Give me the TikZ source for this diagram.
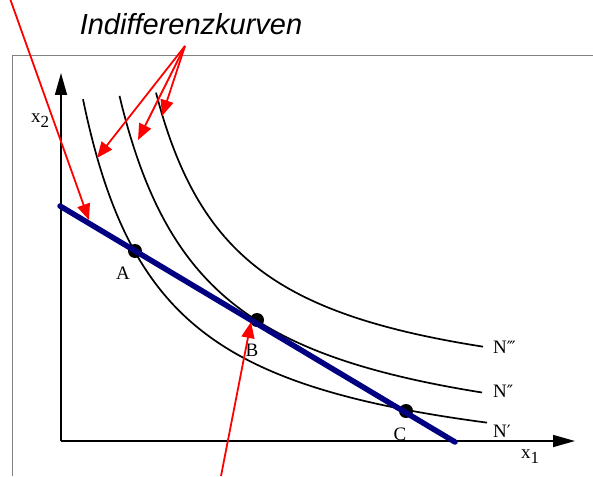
\documentclass[tikz,border=0pt]{standalone}
\usepackage{fontspec}
\setmainfont{Liberation Serif}
\newfontfamily\labsans{Liberation Sans}
\newfontfamily\primefont{DejaVu Sans}
\usetikzlibrary{arrows.meta}
\definecolor{navyline}{RGB}{0,0,128}
\definecolor{framegray}{RGB}{128,128,128}
\tikzset{
  framestyle/.style={draw=framegray, line width=1.1pt},
  axisstyle/.style={draw=black, line width=1.5pt, -{Triangle[length=22pt,width=12pt]}},
  curvestyle/.style={draw=black, line width=1.7pt},
  budget/.style={draw=navyline, line width=5.5pt, line cap=round},
  pointer/.style={draw=red, line width=1.8pt, -{Triangle[length=16pt,width=13pt]}},
  lab/.style={font=\fontsize{19}{19}\selectfont, inner sep=0pt},
  dotpt/.style={circle, fill=black, minimum size=14pt, inner sep=0pt},
}
\begin{document}
\begin{tikzpicture}[x=1pt,y=-1pt]
\useasboundingbox (0,0) rectangle (593,476);
% frame
\draw[framestyle] (12.7,476) -- (12.7,55.7) -- (593,55.7);
% axes
\coordinate (O) at (61,441);
\coordinate (ytip) at (61,73);
\coordinate (xtip) at (575,441);
\draw[axisstyle] (O) -- (ytip);
\draw[axisstyle] (O) -- (xtip);
\node[lab, anchor=base west] (x2) at (31,122) {x\raisebox{-5pt}{\fontsize{17}{17}\selectfont 2}};
\node[lab, anchor=base west] (x1) at (521,458) {x\raisebox{-5pt}{\fontsize{17}{17}\selectfont 1}};
% indifference curves
\draw[curvestyle] plot[smooth, domain=83:487, samples=120] (\x, {486.6 - 309.50/((\x-3.09)/100)});
\draw[curvestyle] plot[smooth, domain=119.5:482, samples=120] (\x, {464.6 - 324.92/((\x-31.37)/100)});
\draw[curvestyle] plot[smooth, domain=156:483, samples=120] (\x, {411.1 - 264.14/((\x-73.05)/100)});
\node[lab, anchor=west] (N3) at (493,347) {N{\primefont\fontsize{17}{17}\selectfont ‴}};
\node[lab, anchor=west] (N2) at (493,391) {N{\primefont\fontsize{17}{17}\selectfont ″}};
\node[lab, anchor=west] (N1) at (493,431) {N{\primefont\fontsize{17}{17}\selectfont ′}};
% points
\node[dotpt] (A) at (135,251) {};
\node[dotpt] (B) at (257,320) {};
\node[dotpt] (C) at (406,411) {};
% budget line
\coordinate (bl1) at (60,206);
\coordinate (bl2) at (455,442);
\draw[budget] (bl1) -- (bl2);
% labels
\node[lab] (Alab) at (123,273) {A};
\node[lab] (Blab) at (252,350) {B};
\node[lab] (Clab) at (400,434) {C};
% title
\node[font=\labsans\itshape\fontsize{29}{29}\selectfont, anchor=base, inner sep=0pt] (title) at (191,35) {Indifferenzkurven};
% red pointers
\coordinate (indsrc) at (185,46);
\coordinate (t1) at (97,158);
\coordinate (t2) at (138,140);
\coordinate (t3) at (162,116);
\draw[pointer] (indsrc) -- (t1);
\draw[pointer] (indsrc) -- (t2);
\draw[pointer] (indsrc) -- (t3);
\coordinate (bsrc) at (10.5,0);
\coordinate (btip) at (89,220);
\draw[pointer] (bsrc) -- (btip);
\coordinate (psrc) at (221,476);
\coordinate (ptip) at (251,322);
\draw[pointer] (psrc) -- (ptip);
\end{tikzpicture}
\end{document}
